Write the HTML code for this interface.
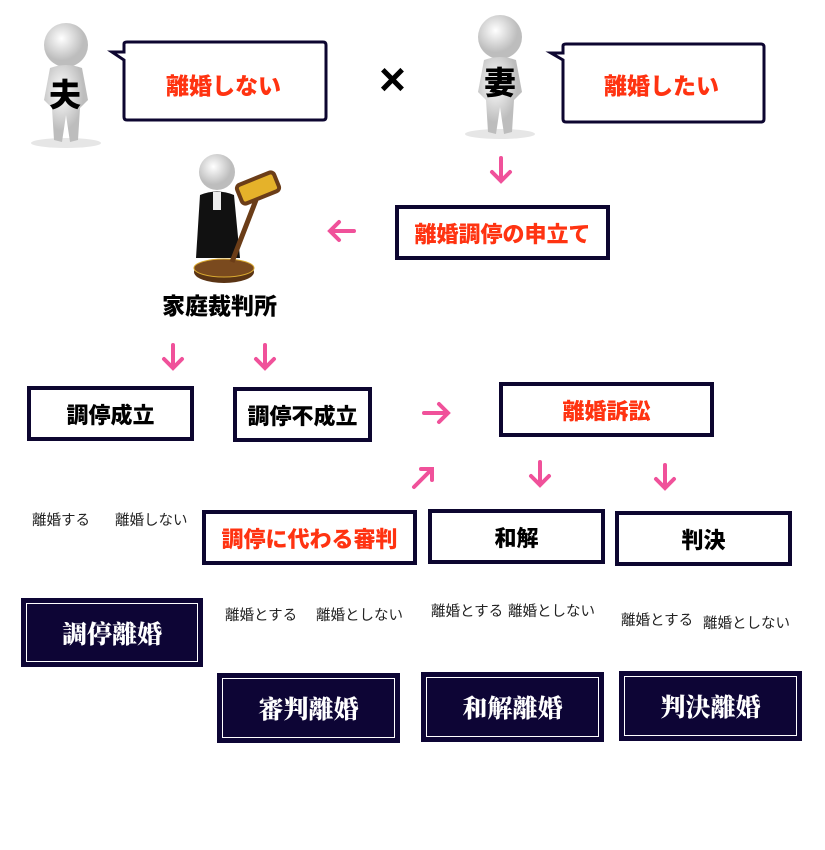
<!DOCTYPE html>
<html><head><meta charset="utf-8"><style>
body{margin:0;width:825px;height:850px;background:#fff;position:relative;overflow:hidden;font-family:"Liberation Sans","Noto Sans CJK JP",sans-serif}
.a{position:absolute}
.box{position:absolute;box-sizing:border-box;border:4px solid #0d0630;background:#fff;display:flex;align-items:center;justify-content:center;font-weight:900;font-size:22px}
.r{color:#ff3311}
.k{color:#000}
.d{position:absolute;box-sizing:border-box;background:#0d0535;display:flex;align-items:center;justify-content:center;color:#fff;font-family:"Liberation Serif","Noto Serif CJK SC",serif;font-weight:900;font-size:25px}
.d::after{content:"";position:absolute;left:5px;top:5px;right:5px;bottom:5px;border:1px solid #fff}
.s{position:absolute;font-size:14.5px;color:#222;white-space:nowrap}
.t{position:absolute;font-weight:900;white-space:nowrap}
</style></head><body>
<svg class="a" style="left:0;top:0" width="825" height="850">
<defs><radialGradient id="g" cx="40%" cy="35%"><stop offset="0" stop-color="#fff"/><stop offset="1" stop-color="#bdbdbd"/></radialGradient></defs>
<ellipse cx="66" cy="143" rx="35" ry="5" fill="#e6e6e6"/>
<circle cx="66" cy="45" r="22" fill="url(#g)"/>
<path d="M50 68 Q66 62 82 68 L88 100 L80 108 L78 140 L70 142 L66 115 L62 142 L54 140 L52 108 L44 100Z" fill="url(#g)"/>
<ellipse cx="500" cy="134" rx="35" ry="5" fill="#e6e6e6"/>
<circle cx="500" cy="37" r="22" fill="url(#g)"/>
<path d="M484 60 Q500 54 516 60 L522 92 L514 100 L512 132 L504 134 L500 107 L496 134 L488 132 L486 100 L478 92Z" fill="url(#g)"/>
<ellipse cx="224" cy="272" rx="30" ry="11" fill="#5a3414"/>
<ellipse cx="224" cy="268" rx="30" ry="9" fill="#7a4a1e" stroke="#d8a830" stroke-width="1"/>
<circle cx="217" cy="172" r="18" fill="url(#g)"/>
<path d="M200 195 Q217 188 234 195 L240 258 L196 258Z" fill="#111"/>
<rect x="213" y="192" width="8" height="18" fill="#eee"/>
<line x1="232" y1="262" x2="256" y2="200" stroke="#6b3d18" stroke-width="5"/>
<rect x="238" y="178" width="40" height="20" rx="4" fill="#e5b22a" stroke="#6b3d18" stroke-width="4" transform="rotate(-22 258 188)"/>
<g stroke="#f0519a" stroke-width="4" stroke-linecap="round" fill="none">
<path d="M501 158V180M492 172L501 181L510 172"/>
<path d="M354 231H331M339 222L330 231L339 240"/>
<path d="M173 345V367M164 359L173 368L182 359"/>
<path d="M265 345V367M256 359L265 368L274 359"/>
<path d="M424 413H447M439 404L448 413L439 422"/>
<path d="M414 487L431 470M421 469H432V480"/>
<path d="M540 462V484M531 476L540 485L549 476"/>
<path d="M665 465V487M656 479L665 488L674 479"/>
</g>
<path d="M124 44 Q124 42 127 42 H323 Q326 42 326 45 V117 Q326 120 323 120 H127 Q124 120 124 117 V60 L112 52 L124 52Z" fill="#fff" stroke="#0d0630" stroke-width="3"/>
<path d="M563 46 Q563 44 566 44 H761 Q764 44 764 47 V119 Q764 122 761 122 H566 Q563 122 563 119 V60 L551 53 L563 53Z" fill="#fff" stroke="#0d0630" stroke-width="3"/>
</svg>
<div class="t k" style="left:49px;top:70px;font-size:32px">夫</div>
<div class="t k" style="left:484px;top:58px;font-size:32px">妻</div>
<div class="t r" style="left:166px;top:67px;font-size:23px">離婚しない</div>
<div class="t r" style="left:604px;top:67px;font-size:23px">離婚したい</div>
<div class="t k" style="left:379px;top:52px;font-size:46px;font-weight:700">×</div>
<div class="t k" style="left:162px;top:287px;font-size:23px">家庭裁判所</div>
<div class="box r" style="left:395px;top:205px;width:215px;height:55px">離婚調停の申立て</div>
<div class="box k" style="left:27px;top:386px;width:167px;height:55px">調停成立</div>
<div class="box k" style="left:233px;top:387px;width:139px;height:55px">調停不成立</div>
<div class="box r" style="left:499px;top:382px;width:215px;height:55px">離婚訴訟</div>
<div class="box r" style="left:202px;top:510px;width:215px;height:55px">調停に代わる審判</div>
<div class="box k" style="left:428px;top:509px;width:177px;height:55px">和解</div>
<div class="box k" style="left:615px;top:511px;width:177px;height:55px">判決</div>
<div class="s" style="left:32px;top:509px">離婚する</div>
<div class="s" style="left:115px;top:509px">離婚しない</div>
<div class="s" style="left:225px;top:604px">離婚とする</div>
<div class="s" style="left:316px;top:604px">離婚としない</div>
<div class="s" style="left:431px;top:600px">離婚とする</div>
<div class="s" style="left:508px;top:600px">離婚としない</div>
<div class="s" style="left:621px;top:609px">離婚とする</div>
<div class="s" style="left:703px;top:612px">離婚としない</div>
<div class="d" style="left:21px;top:598px;width:182px;height:69px">調停離婚</div>
<div class="d" style="left:217px;top:673px;width:183px;height:70px">審判離婚</div>
<div class="d" style="left:421px;top:672px;width:183px;height:70px">和解離婚</div>
<div class="d" style="left:619px;top:671px;width:183px;height:70px">判決離婚</div>
</body></html>
